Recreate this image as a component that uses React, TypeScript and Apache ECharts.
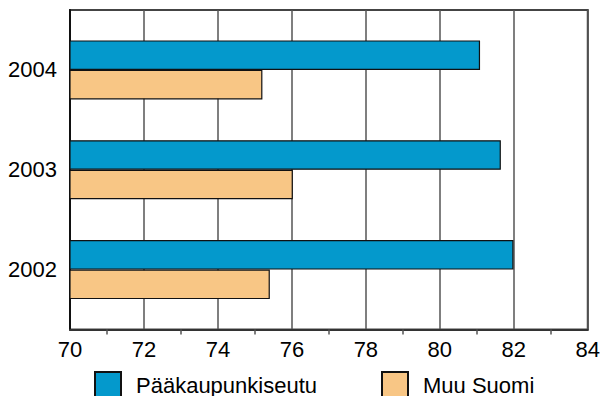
import React, { useEffect, useRef } from "react";
import * as echarts from "echarts";

const years = ["2004", "2003", "2002"];
const capitalRegion = [81.04, 81.6, 81.94];
const restOfFinland = [75.18, 76.0, 75.38];
const seriesNames = ["Pääkaupunkiseutu", "Muu Suomi"];
const xMin = 70;
const xMax = 84;
const xStep = 2;

const FONT = "Liberation Sans, Arial, sans-serif";

export default function App() {
  const ref = useRef<HTMLDivElement>(null);
  useEffect(() => {
    if (!ref.current) return;
    const chart = echarts.init(ref.current, null, { renderer: "svg" });
    chart.setOption({
      animation: false,
      backgroundColor: "#ffffff",
      grid: [
        {
          left: 70,
          right: 13,
          top: 10,
          bottom: 66.5,
          show: true,
          borderColor: "#444",
          borderWidth: 2,
        },
        { left: 70, right: 13, top: 20, bottom: 76.5 },
      ],
      legend: [
        {
          left: 94,
          top: 371,
          padding: 0,
          itemWidth: 26,
          itemHeight: 27,
          icon: "rect",
          data: [seriesNames[0]],
          textStyle: { fontSize: 22, color: "#000", fontFamily: FONT, padding: [0, 0, 0, 10] },
        },
        {
          left: 381,
          top: 371,
          padding: 0,
          itemWidth: 26,
          itemHeight: 27,
          icon: "rect",
          data: [seriesNames[1]],
          textStyle: { fontSize: 22, color: "#000", fontFamily: FONT, padding: [0, 0, 0, 10] },
        },
      ],
      xAxis: [
        {
          gridIndex: 0,
          type: "value",
          min: xMin,
          max: xMax,
          interval: xStep,
          axisLine: { show: true, lineStyle: { color: "#333", width: 2 } },
          axisTick: { show: false },
          minorTick: { show: true, splitNumber: 2, length: 5, lineStyle: { color: "#555", width: 1.5 } },
          splitLine: { show: true, lineStyle: { color: "#555", width: 1.5 } },
          axisLabel: { fontSize: 22, color: "#000", fontFamily: FONT, margin: 9 },
        },
        {
          gridIndex: 1,
          type: "value",
          min: xMin,
          max: xMax,
          interval: xStep,
          show: false,
        },
      ],
      yAxis: [
        {
          gridIndex: 0,
          type: "value",
          min: 0,
          max: 1,
          axisLine: { show: true, onZero: false, lineStyle: { color: "#111", width: 2 } },
          axisTick: { show: false },
          axisLabel: { show: false },
          splitLine: { show: false },
        },
        {
          gridIndex: 1,
          type: "category",
          inverse: true,
          data: years,
          axisLine: { show: false },
          axisTick: { show: false },
          axisLabel: { fontSize: 22, color: "#000", fontFamily: FONT, margin: 13 },
        },
      ],
      series: [
        {
          name: seriesNames[0],
          type: "bar",
          xAxisIndex: 1,
          yAxisIndex: 1,
          data: capitalRegion,
          barWidth: 29.5,
          barGap: "0%",
          itemStyle: { color: "#0499cc", borderColor: "#111", borderWidth: 1.2 },
        },
        {
          name: seriesNames[1],
          type: "bar",
          xAxisIndex: 1,
          yAxisIndex: 1,
          data: restOfFinland,
          barWidth: 29.5,
          barGap: "0%",
          itemStyle: { color: "#f8c685", borderColor: "#111", borderWidth: 1.2 },
        },
      ],
    });
    return () => chart.dispose();
  }, []);
  return <div ref={ref} style={{ width: 603, height: 396, position: "absolute", left: 0, top: 0 }} />;
}
